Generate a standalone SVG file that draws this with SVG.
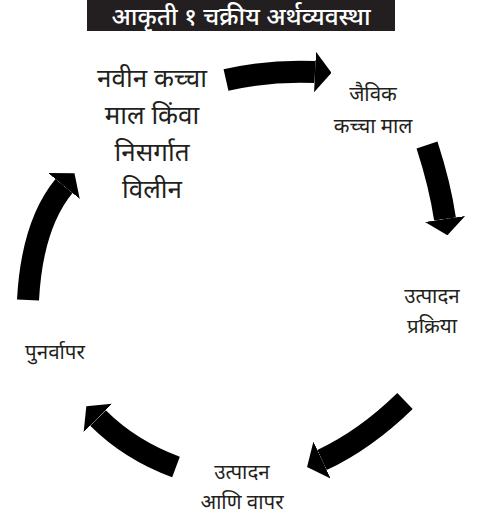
<svg xmlns="http://www.w3.org/2000/svg" width="500" height="515" viewBox="0 0 500 515">
<style>
text{font-family:"Noto Sans","Noto Sans Devanagari","DejaVu Sans",sans-serif;fill:#231f20;text-anchor:middle}
.t{fill:#fff;font-size:24.5px;font-weight:500}
.big{font-size:26px}
.lab{font-size:20.5px}
.arr{fill:none;stroke:#000;stroke-width:22;marker-end:url(#h)}
</style>
<defs>
<marker id="h" viewBox="0 0 10 10" refX="0" refY="5" markerUnits="strokeWidth" markerWidth="0.75" markerHeight="1.85" orient="auto" preserveAspectRatio="none">
<path d="M0,0 L10,5 L0,10 z" fill="#000"/>
</marker>
</defs>
<rect width="500" height="515" fill="#fff"/>
<g id="title">
<rect x="87" y="0" width="308" height="31" fill="#231f20"/>
<text class="t" x="241" y="25">आकृती १ चक्रीय अर्थव्यवस्था</text>
</g>
<g id="n1">
<text class="big" x="152" y="87">नवीन कच्चा</text>
<text class="big" x="152" y="124">माल किंवा</text>
<text class="big" x="152" y="161">निसर्गात</text>
<text class="big" x="152" y="198">विलीन</text>
</g>
<g id="n2">
<text class="lab" x="373" y="101">जैविक</text>
<text class="lab" x="373" y="133">कच्चा माल</text>
</g>
<g id="n3">
<text class="lab" x="432" y="303">उत्पादन</text>
<text class="lab" x="432" y="333">प्रक्रिया</text>
</g>
<g id="n4">
<text class="lab" x="242" y="479">उत्पादन</text>
<text class="lab" x="242" y="509">आणि वापर</text>
</g>
<g id="n5">
<text class="lab" x="55" y="359">पुनर्वापर</text>
</g>
<g id="connectors">
<path class="arr" d="M226,80 Q270,70 315,72"/>
<path class="arr" d="M427,145 Q440,185 445,219"/>
<path class="arr" d="M405,401 Q365,440 322,460"/>
<path class="arr" d="M176,467 Q130,450 98,418"/>
<path class="arr" d="M28,300 Q32,225 64,186"/>
</g>
</svg>
